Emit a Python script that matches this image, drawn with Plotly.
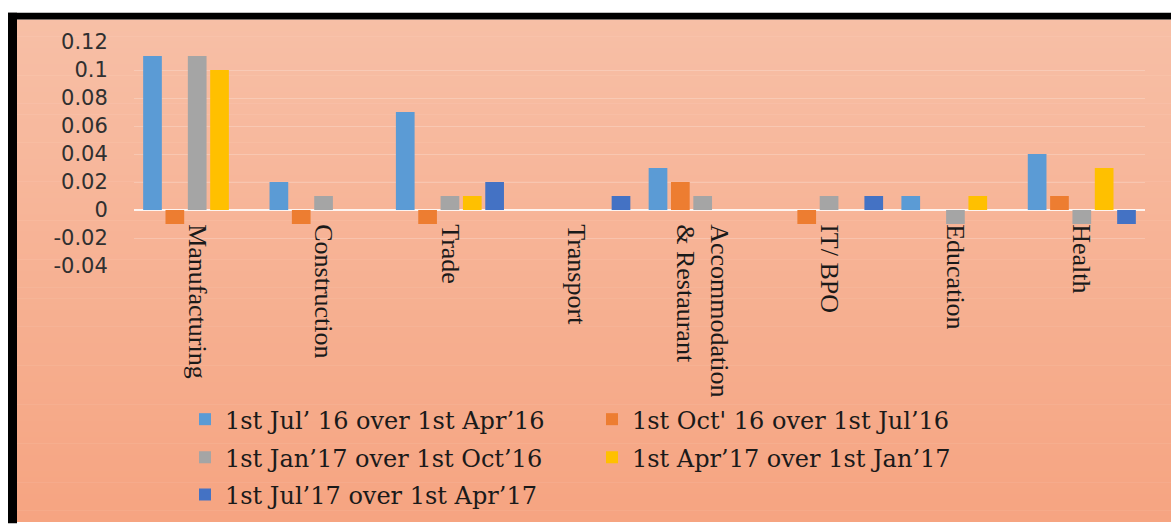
import plotly.graph_objects as go

# ---------------- data ----------------
categories = ["Manufacturing", "Construction", "Trade", "Transport",
              "Accommodation<br>& Restaurant", "IT/ BPO", "Education", "Health"]

series_names = ["1st Jul\u2019 16 over 1st Apr\u201916",
                "1st Oct' 16 over 1st Jul\u201916",
                "1st Jan\u201917 over 1st Oct\u201916",
                "1st Apr\u201917 over 1st Jan\u201917",
                "1st Jul\u201917 over 1st Apr\u201917"]

jul16_over_apr16 = [0.11, 0.02, 0.07, 0.00, 0.03, 0.00, 0.01, 0.04]
oct16_over_jul16 = [-0.01, -0.01, -0.01, 0.00, 0.02, -0.01, 0.00, 0.01]
jan17_over_oct16 = [0.11, 0.01, 0.01, 0.00, 0.01, 0.01, -0.01, -0.01]
apr17_over_jan17 = [0.10, 0.00, 0.01, 0.00, 0.00, 0.00, 0.01, 0.03]
jul17_over_apr17 = [0.00, 0.00, 0.02, 0.01, 0.00, 0.01, 0.00, -0.01]

y_tickvals = [-0.04, -0.02, 0, 0.02, 0.04, 0.06, 0.08, 0.1, 0.12]
y_ticktext = ["-0.04", "-0.02", "0", "0.02", "0.04", "0.06", "0.08", "0.1", "0.12"]

# ---------------- styling ----------------
colors = ["#5B9BD5", "#ED7D31", "#A5A5A5", "#FFC000", "#4472C4"]
series_values = [jul16_over_apr16, oct16_over_jul16, jan17_over_oct16,
                 apr17_over_jan17, jul17_over_apr17]
legend_ids = ["legend", "legend", "legend2", "legend2", "legend3"]

W, H = 1171, 530
ML, MR, MT, MB = 134, 26, 42, 259
PW = W - ML - MR
PH = H - MT - MB


def sx(px):
    """screen x pixel -> paper x"""
    return (px - ML) / PW


def sy(py):
    """screen y pixel -> paper y"""
    return (H - MB - py) / PH


fig = go.Figure()
for name, vals, col, lg in zip(series_names, series_values, colors, legend_ids):
    fig.add_trace(go.Bar(x=categories, y=vals, name=name, marker_color=col,
                         marker_line_width=0, legend=lg))

# background gradient + frame
shapes = []
top_c = (247, 191, 166)
bot_c = (246, 164, 129)
y0, y1 = 19, 532
n = 90
for i in range(n):
    a = y0 + (y1 - y0) * i / n
    b = y0 + (y1 - y0) * (i + 1) / n + 0.6
    t = (i + 0.5) / n
    c = tuple(int(round(top_c[k] + (bot_c[k] - top_c[k]) * t)) for k in range(3))
    shapes.append(dict(type="rect", xref="paper", yref="paper", layer="below",
                       x0=sx(17), x1=sx(1175), y0=sy(b), y1=sy(a),
                       fillcolor="rgb(%d,%d,%d)" % c, line_width=0))
shapes.append(dict(type="rect", xref="paper", yref="paper", layer="below",
                   x0=sx(8), x1=sx(1175), y0=sy(19), y1=sy(12),
                   fillcolor="black", line_width=0))
shapes.append(dict(type="rect", xref="paper", yref="paper", layer="below",
                   x0=sx(8), x1=sx(17), y0=sy(534), y1=sy(12),
                   fillcolor="black", line_width=0))

legend_common = dict(orientation="h", xanchor="left", yanchor="middle",
                     bgcolor="rgba(0,0,0,0)", entrywidth=362,
                     font=dict(family="DejaVu Serif", size=24, color="#1a1a1a"))

fig.update_layout(
    width=W, height=H,
    margin=dict(l=ML, r=MR, t=MT, b=MB, pad=0),
    paper_bgcolor="white",
    plot_bgcolor="rgba(0,0,0,0)",
    barmode="group",
    bargap=0.116,
    bargroupgap=0.163,
    shapes=shapes,
    showlegend=True,
    legend=dict(x=sx(185), y=sy(428), **legend_common),
    legend2=dict(x=sx(185), y=sy(467), **legend_common),
    legend3=dict(x=sx(185), y=sy(505), **legend_common),
    xaxis=dict(anchor="free", position=0.25, tickangle=90,
               showgrid=False, showline=False, zeroline=False,
               ticks="outside", ticklen=8, tickcolor="rgba(0,0,0,0)",
               tickfont=dict(family="Liberation Serif", size=26, color="#1a1a1a"),
               automargin=False),
    yaxis=dict(range=[-0.04, 0.12], tickvals=y_tickvals, ticktext=y_ticktext,
               showgrid=True, gridcolor="rgba(255,255,255,0.22)", gridwidth=1,
               zeroline=True, zerolinecolor="rgba(255,255,255,0.85)", zerolinewidth=2,
               showline=False,
               ticks="outside", ticklen=21, tickcolor="rgba(0,0,0,0)",
               tickfont=dict(family="DejaVu Sans", size=21, color="#303030"),
               automargin=False),
)

fig.write_html("out.html",
               config={"displayModeBar": False},
               post_script="document.body.style.margin='0px';"
                           "document.body.style.overflow='hidden';")
